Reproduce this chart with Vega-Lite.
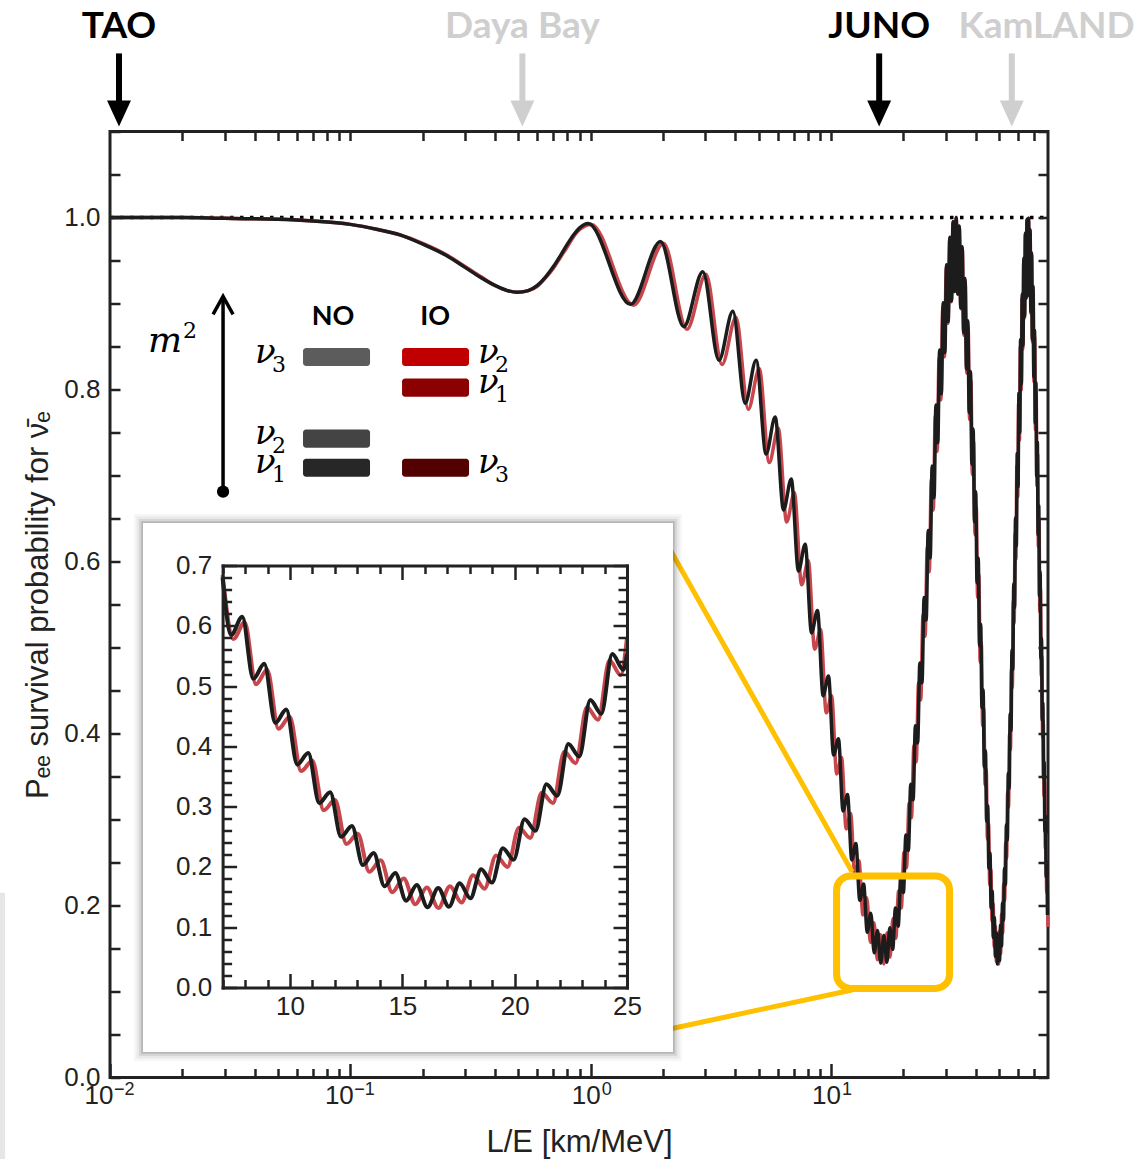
{
"$schema":"https://vega.github.io/schema/vega-lite/v6.json",
"width":938,"height":946,
"autosize":{"type":"none"},
"padding":{"left":110,"top":131.5,"right":99,"bottom":81.5},
"background":"#ffffff",
"config":{"view":{"stroke":"#222222","strokeWidth":3},"axis":{"grid":false}},
"datasets":{
"noM":[{"x":0.01,"p":1},{"x":0.02,"p":1},{"x":0.03,"p":0.999},{"x":0.05,"p":0.998},{"x":0.07,"p":0.996},{"x":0.1,"p":0.992},{"x":0.13,"p":0.986},{"x":0.16,"p":0.98},{"x":0.2,"p":0.969},{"x":0.25,"p":0.956},{"x":0.3,"p":0.942},{"x":0.35,"p":0.93},{"x":0.4,"p":0.921},{"x":0.45,"p":0.915},{"x":0.493,"p":0.913},{"x":0.55,"p":0.915},{"x":0.6,"p":0.921},{"x":0.65,"p":0.931},{"x":0.7,"p":0.943},{"x":0.75,"p":0.956},{"x":0.8,"p":0.969},{"x":0.85,"p":0.98},{"x":0.9,"p":0.988},
{"x":0.976,"p":0.993},{"x":1.465,"p":0.899},{"x":1.953,"p":0.972},{"x":2.441,"p":0.873},{"x":2.929,"p":0.937},{"x":3.418,"p":0.834},{"x":3.906,"p":0.891},{"x":4.394,"p":0.784},{"x":4.882,"p":0.834},{"x":5.37,"p":0.725},{"x":5.859,"p":0.768},{"x":6.347,"p":0.66},{"x":6.835,"p":0.696},{"x":7.323,"p":0.589},{"x":7.812,"p":0.62},{"x":8.3,"p":0.517},{"x":8.788,"p":0.543},{"x":9.276,"p":0.444},{"x":9.764,"p":0.467},{"x":10.253,"p":0.375},{"x":10.741,"p":0.394},{"x":11.229,"p":0.31},{"x":11.717,"p":0.329},{"x":12.206,"p":0.253},{"x":12.694,"p":0.272},{"x":13.182,"p":0.206},{"x":13.67,"p":0.225},{"x":14.158,"p":0.169},{"x":14.647,"p":0.191},{"x":15.135,"p":0.145},{"x":15.623,"p":0.171},{"x":16.111,"p":0.133},{"x":16.599,"p":0.165},{"x":17.088,"p":0.134},{"x":17.576,"p":0.174},{"x":18.064,"p":0.149},{"x":18.552,"p":0.197},{"x":19.041,"p":0.176},{"x":19.529,"p":0.234},{"x":20.017,"p":0.215},{"x":20.505,"p":0.282},{"x":20.993,"p":0.264},{"x":21.482,"p":0.341},{"x":21.97,"p":0.323},{"x":22.458,"p":0.409},{"x":22.946,"p":0.389},{"x":23.435,"p":0.482},{"x":23.923,"p":0.459},{"x":24.411,"p":0.558},{"x":24.899,"p":0.532},{"x":25.387,"p":0.636},{"x":25.876,"p":0.604},{"x":26.364,"p":0.711},{"x":26.852,"p":0.674},{"x":27.34,"p":0.782},{"x":27.829,"p":0.738},{"x":28.317,"p":0.846},{"x":28.805,"p":0.795},{"x":29.293,"p":0.901},{"x":29.781,"p":0.843},{"x":30.27,"p":0.945},{"x":30.758,"p":0.879},{"x":31.246,"p":0.977},{"x":31.734,"p":0.903},{"x":32.223,"p":0.995},{"x":32.711,"p":0.914},{"x":33.199,"p":1},{"x":33.687,"p":0.911},{"x":34.175,"p":0.99},{"x":34.664,"p":0.895},{"x":35.152,"p":0.966},{"x":35.64,"p":0.866},{"x":36.128,"p":0.929},{"x":36.617,"p":0.824},{"x":37.105,"p":0.88},{"x":37.593,"p":0.773},{"x":38.081,"p":0.821},{"x":38.569,"p":0.713},{"x":39.058,"p":0.754},{"x":39.546,"p":0.646},{"x":40.034,"p":0.681},{"x":40.522,"p":0.575},{"x":41.01,"p":0.604},{"x":41.499,"p":0.502},{"x":41.987,"p":0.527},{"x":42.475,"p":0.43},{"x":42.963,"p":0.451},{"x":43.452,"p":0.361},{"x":43.94,"p":0.38},{"x":44.428,"p":0.298},{"x":44.916,"p":0.316},{"x":45.404,"p":0.243},{"x":45.893,"p":0.261},{"x":46.381,"p":0.197},{"x":46.869,"p":0.217},{"x":47.357,"p":0.163},{"x":47.846,"p":0.186},{"x":48.334,"p":0.141},{"x":48.822,"p":0.168},{"x":49.31,"p":0.132},{"x":49.798,"p":0.165},{"x":50.287,"p":0.136},{"x":50.775,"p":0.177},{"x":51.263,"p":0.153},{"x":51.751,"p":0.203},{"x":52.24,"p":0.183},{"x":52.728,"p":0.243},{"x":53.216,"p":0.224},{"x":53.704,"p":0.294},{"x":54.192,"p":0.276},{"x":54.681,"p":0.354},{"x":55.169,"p":0.336},{"x":55.657,"p":0.423},{"x":56.145,"p":0.403},{"x":56.634,"p":0.497},{"x":57.122,"p":0.474},{"x":57.61,"p":0.574},{"x":58.098,"p":0.546},{"x":58.586,"p":0.651},{"x":59.075,"p":0.618},{"x":59.563,"p":0.726},{"x":60.051,"p":0.687},{"x":60.539,"p":0.796},{"x":61.028,"p":0.75},{"x":61.516,"p":0.858},{"x":62.004,"p":0.806},{"x":62.492,"p":0.911},{"x":62.98,"p":0.851},{"x":63.469,"p":0.953},{"x":63.957,"p":0.885},{"x":64.445,"p":0.982},{"x":64.933,"p":0.906},{"x":65.421,"p":0.998},{"x":65.91,"p":0.914},{"x":66.398,"p":0.999},{"x":66.886,"p":0.909},{"x":67.374,"p":0.986},{"x":67.863,"p":0.89},{"x":68.351,"p":0.959},{"x":68.839,"p":0.858},{"x":69.327,"p":0.92},{"x":69.815,"p":0.815},{"x":70.304,"p":0.869},{"x":70.792,"p":0.761},{"x":71.28,"p":0.808},{"x":71.768,"p":0.699},{"x":72.257,"p":0.739},{"x":72.745,"p":0.631},{"x":73.233,"p":0.665},{"x":73.721,"p":0.56},{"x":74.209,"p":0.588},{"x":74.698,"p":0.487},{"x":75.186,"p":0.511},{"x":75.674,"p":0.415},{"x":76.162,"p":0.436},{"x":76.651,"p":0.348},{"x":77.139,"p":0.367},{"x":77.627,"p":0.286},{"x":78.115,"p":0.304},{"x":78.603,"p":0.233},{"x":79.092,"p":0.251},{"x":79.58,"p":0.189}],
"ioM":[{"x":0.01,"p":1},{"x":0.02,"p":1},{"x":0.03,"p":0.999},{"x":0.05,"p":0.998},{"x":0.07,"p":0.996},{"x":0.1,"p":0.992},{"x":0.13,"p":0.986},{"x":0.16,"p":0.98},{"x":0.2,"p":0.97},{"x":0.25,"p":0.957},{"x":0.3,"p":0.943},{"x":0.35,"p":0.931},{"x":0.4,"p":0.921},{"x":0.45,"p":0.915},{"x":0.5,"p":0.913},{"x":0.55,"p":0.915},{"x":0.6,"p":0.92},{"x":0.65,"p":0.93},{"x":0.7,"p":0.941},{"x":0.75,"p":0.954},{"x":0.8,"p":0.966},{"x":0.85,"p":0.978},{"x":0.9,"p":0.986},
{"x":1.006,"p":0.992},{"x":1.509,"p":0.898},{"x":2.012,"p":0.97},{"x":2.515,"p":0.87},{"x":3.019,"p":0.934},{"x":3.522,"p":0.829},{"x":4.025,"p":0.884},{"x":4.528,"p":0.777},{"x":5.031,"p":0.824},{"x":5.534,"p":0.715},{"x":6.037,"p":0.755},{"x":6.54,"p":0.646},{"x":7.043,"p":0.68},{"x":7.546,"p":0.573},{"x":8.049,"p":0.601},{"x":8.553,"p":0.498},{"x":9.056,"p":0.521},{"x":9.559,"p":0.424},{"x":10.062,"p":0.444},{"x":10.565,"p":0.353},{"x":11.068,"p":0.372},{"x":11.571,"p":0.289},{"x":12.074,"p":0.307},{"x":12.577,"p":0.234},{"x":13.08,"p":0.252},{"x":13.583,"p":0.189},{"x":14.087,"p":0.209},{"x":14.59,"p":0.157},{"x":15.093,"p":0.18},{"x":15.596,"p":0.137},{"x":16.099,"p":0.166},{"x":16.602,"p":0.132},{"x":17.105,"p":0.168},{"x":17.608,"p":0.14},{"x":18.111,"p":0.185},{"x":18.614,"p":0.162},{"x":19.117,"p":0.217},{"x":19.621,"p":0.197},{"x":20.124,"p":0.262},{"x":20.627,"p":0.244},{"x":21.13,"p":0.319},{"x":21.633,"p":0.302},{"x":22.136,"p":0.386},{"x":22.639,"p":0.367},{"x":23.142,"p":0.459},{"x":23.645,"p":0.439},{"x":24.148,"p":0.538},{"x":24.651,"p":0.513},{"x":25.155,"p":0.617},{"x":25.658,"p":0.588},{"x":26.161,"p":0.696},{"x":26.664,"p":0.66},{"x":27.167,"p":0.77},{"x":27.67,"p":0.728},{"x":28.173,"p":0.837},{"x":28.676,"p":0.788},{"x":29.179,"p":0.895},{"x":29.682,"p":0.838},{"x":30.185,"p":0.942},{"x":30.688,"p":0.877},{"x":31.192,"p":0.976},{"x":31.695,"p":0.902},{"x":32.198,"p":0.995},{"x":32.701,"p":0.914},{"x":33.204,"p":1},{"x":33.707,"p":0.911},{"x":34.21,"p":0.989},{"x":34.713,"p":0.894},{"x":35.216,"p":0.964},{"x":35.719,"p":0.863},{"x":36.222,"p":0.925},{"x":36.726,"p":0.819},{"x":37.229,"p":0.873},{"x":37.732,"p":0.765},{"x":38.235,"p":0.811},{"x":38.738,"p":0.701},{"x":39.241,"p":0.74},{"x":39.744,"p":0.631},{"x":40.247,"p":0.664},{"x":40.75,"p":0.558},{"x":41.253,"p":0.585},{"x":41.756,"p":0.483},{"x":42.26,"p":0.505},{"x":42.763,"p":0.409},{"x":43.266,"p":0.429},{"x":43.769,"p":0.34},{"x":44.272,"p":0.358},{"x":44.775,"p":0.277},{"x":45.278,"p":0.295},{"x":45.781,"p":0.224},{"x":46.284,"p":0.242},{"x":46.787,"p":0.182},{"x":47.29,"p":0.202},{"x":47.794,"p":0.152},{"x":48.297,"p":0.176},{"x":48.8,"p":0.135},{"x":49.303,"p":0.165},{"x":49.806,"p":0.132},{"x":50.309,"p":0.17},{"x":50.812,"p":0.144},{"x":51.315,"p":0.19},{"x":51.818,"p":0.168},{"x":52.321,"p":0.225},{"x":52.824,"p":0.206},{"x":53.328,"p":0.273},{"x":53.831,"p":0.255},{"x":54.334,"p":0.332},{"x":54.837,"p":0.314},{"x":55.34,"p":0.4},{"x":55.843,"p":0.381},{"x":56.346,"p":0.475},{"x":56.849,"p":0.453},{"x":57.352,"p":0.554},{"x":57.855,"p":0.528},{"x":58.358,"p":0.633},{"x":58.862,"p":0.603},{"x":59.365,"p":0.711},{"x":59.868,"p":0.675},{"x":60.371,"p":0.784},{"x":60.874,"p":0.741},{"x":61.377,"p":0.85},{"x":61.88,"p":0.799},{"x":62.383,"p":0.906},{"x":62.886,"p":0.847},{"x":63.389,"p":0.95},{"x":63.892,"p":0.883},{"x":64.395,"p":0.981},{"x":64.899,"p":0.906},{"x":65.402,"p":0.997},{"x":65.905,"p":0.914},{"x":66.408,"p":0.999},{"x":66.911,"p":0.909},{"x":67.414,"p":0.985},{"x":67.917,"p":0.888},{"x":68.42,"p":0.957},{"x":68.923,"p":0.855},{"x":69.426,"p":0.915},{"x":69.929,"p":0.809},{"x":70.433,"p":0.861},{"x":70.936,"p":0.753},{"x":71.439,"p":0.797},{"x":71.942,"p":0.688},{"x":72.445,"p":0.725},{"x":72.948,"p":0.617},{"x":73.451,"p":0.648},{"x":73.954,"p":0.542},{"x":74.457,"p":0.569},{"x":74.96,"p":0.467},{"x":75.464,"p":0.49},{"x":75.967,"p":0.395},{"x":76.47,"p":0.414},{"x":76.973,"p":0.327},{"x":77.476,"p":0.344},{"x":77.979,"p":0.266},{"x":78.482,"p":0.283},{"x":78.985,"p":0.215},{"x":79.488,"p":0.233},{"x":79.991,"p":0.175}],
"noI":[{"x":7,"p":0.68},{"x":7.383,"p":0.585},{"x":7.874,"p":0.615},{"x":8.365,"p":0.512},{"x":8.855,"p":0.537},{"x":9.345,"p":0.439},{"x":9.834,"p":0.461},{"x":10.324,"p":0.37},{"x":10.812,"p":0.389},{"x":11.3,"p":0.306},{"x":11.787,"p":0.324},{"x":12.273,"p":0.25},{"x":12.758,"p":0.268},{"x":13.242,"p":0.203},{"x":13.725,"p":0.223},{"x":14.206,"p":0.168},{"x":14.687,"p":0.19},{"x":15.166,"p":0.144},{"x":15.643,"p":0.17},{"x":16.12,"p":0.133},{"x":16.597,"p":0.165},{"x":17.074,"p":0.134},{"x":17.551,"p":0.173},{"x":18.03,"p":0.148},{"x":18.509,"p":0.196},{"x":18.99,"p":0.174},{"x":19.472,"p":0.231},{"x":19.955,"p":0.212},{"x":20.439,"p":0.279},{"x":20.925,"p":0.26},{"x":21.412,"p":0.337},{"x":21.899,"p":0.318},{"x":22.387,"p":0.404},{"x":22.875,"p":0.383},{"x":23.365,"p":0.477},{"x":23.855,"p":0.454},{"x":24.345,"p":0.553},{"x":24.835,"p":0.527},{"x":25,"p":0.553}],
"ioI":[{"x":7,"p":0.684},{"x":7.483,"p":0.578},{"x":7.983,"p":0.606},{"x":8.485,"p":0.503},{"x":8.986,"p":0.527},{"x":9.487,"p":0.429},{"x":9.989,"p":0.449},{"x":10.492,"p":0.359},{"x":10.995,"p":0.376},{"x":11.499,"p":0.294},{"x":12.004,"p":0.311},{"x":12.51,"p":0.238},{"x":13.017,"p":0.255},{"x":13.526,"p":0.192},{"x":14.037,"p":0.211},{"x":14.548,"p":0.158},{"x":15.061,"p":0.181},{"x":15.575,"p":0.138},{"x":16.089,"p":0.166},{"x":16.605,"p":0.132},{"x":17.12,"p":0.168},{"x":17.634,"p":0.141},{"x":18.147,"p":0.186},{"x":18.66,"p":0.164},{"x":19.17,"p":0.219},{"x":19.681,"p":0.2},{"x":20.189,"p":0.265},{"x":20.696,"p":0.248},{"x":21.201,"p":0.323},{"x":21.706,"p":0.306},{"x":22.209,"p":0.391},{"x":22.712,"p":0.372},{"x":23.215,"p":0.465},{"x":23.716,"p":0.444},{"x":24.218,"p":0.543},{"x":24.718,"p":0.518},{"x":25,"p":0.58}],
"sites":[{"n":"TAO","x":0.0109,"lx":0.0109,"hl":"y"},{"n":"Daya Bay","x":0.52,"lx":0.52,"hl":"n"},{"n":"JUNO","x":15.87,"lx":15.87,"hl":"y"},{"n":"KamLAND","x":56.55,"lx":78.9,"hl":"n"}],
"bars":[{"k":"n3","x":0.06356,"x2":0.12078,"p":0.8482,"p2":0.8272},{"k":"n2","x":0.06356,"x2":0.12078,"p":0.7534,"p2":0.7324},{"k":"n1","x":0.06356,"x2":0.12078,"p":0.7196,"p2":0.6986},{"k":"i2","x":0.16414,"x2":0.31187,"p":0.8482,"p2":0.8272},{"k":"i1","x":0.16414,"x2":0.31187,"p":0.8127,"p2":0.7917},{"k":"i3","x":0.16414,"x2":0.31187,"p":0.7196,"p2":0.6986}],
"nu":[{"x":0.04012,"p":0.8313,"t":"ν","s":"3"},{"x":0.04012,"p":0.7365,"t":"ν","s":"2"},{"x":0.04012,"p":0.7027,"t":"ν","s":"1"},{"x":0.3399,"p":0.8313,"t":"ν","s":"2"},{"x":0.3399,"p":0.7958,"t":"ν","s":"1"},{"x":0.3399,"p":0.7027,"t":"ν","s":"3"}],
"box":[{"x":3.457,"x2":27.047,"p":0.7705,"p2":-0.107}]
},
"layer":[
{
"layer":[
{"data":{"values":[{"x":0.003485,"x2":0.00366,"p":0.2147,"p2":-0.095}]},
 "mark":{"type":"rect","color":"#e6e6e6"},
 "encoding":{
  "x":{"field":"x","type":"quantitative","scale":{"type":"log","domain":[0.01,80],"nice":false},"axis":null},
  "x2":{"field":"x2"},
  "y":{"field":"p","type":"quantitative","scale":{"domain":[0,1.1],"nice":false,"zero":false},"axis":null},
  "y2":{"field":"p2"}}},
{"data":{"values":[{"x":0.01,"x2":80,"p":1}]},
 "mark":{"type":"rule","color":"#000000","strokeWidth":3.5,"strokeDash":[3.5,6.5]},
 "encoding":{
  "x":{"field":"x","type":"quantitative","scale":{"type":"log","domain":[0.01,80],"nice":false},
   "axis":{"orient":"top","values":[0.02,0.03,0.04,0.05,0.06,0.07,0.08,0.09,0.1,0.2,0.3,0.4,0.5,0.6,0.7,0.8,0.9,1,2,3,4,5,6,7,8,9,10,20,30,40,50,60,70],"tickSize":-9,"tickWidth":2.5,"tickColor":"#222222","labels":false,"domain":false,"grid":false,"title":null,"zindex":1}},
  "x2":{"field":"x2"},
  "y":{"field":"p","type":"quantitative","scale":{"domain":[0,1.1],"nice":false,"zero":false},"axis":null}}},
{"data":{"name":"ioM"},
 "mark":{"type":"line","color":"#C8474D","strokeWidth":3.5,"interpolate":"monotone"},
 "encoding":{
  "x":{"field":"x","type":"quantitative","scale":{"type":"log","domain":[0.01,80],"nice":false},
   "axis":{"orient":"bottom","values":[0.01,0.1],"tickSize":-14,"tickWidth":2.5,"tickColor":"#222222","labelExpr":"'10'","labelAlign":"right","labelBaseline":"alphabetic","labelOffset":3,"labelFont":"Liberation Sans","labelFontSize":26,"labelColor":"#222222","labelPadding":39.5,"labelOverlap":false,"labelFlush":false,"domain":false,"grid":false,"title":"L/E [km/MeV]","titleFont":"Liberation Sans","titleFontSize":31,"titleFontWeight":"normal","titleColor":"#222222","titleY":73.5,"titleBaseline":"alphabetic","zindex":1}},
  "y":{"field":"p","type":"quantitative","scale":{"domain":[0,1.1],"nice":false,"zero":false},
   "axis":{"orient":"left","values":[0,0.05,0.1,0.15,0.2,0.25,0.3,0.35,0.4,0.45,0.5,0.55,0.6,0.65,0.7,0.75,0.8,0.85,0.9,0.95,1,1.05,1.1],"tickSize":-10,"tickWidth":2.5,"tickColor":"#222222","labelExpr":"abs(datum.value*5 - round(datum.value*5)) < 0.001 ? format(datum.value, '.1f') : ''","labelFont":"Liberation Sans","labelFontSize":26,"labelColor":"#222222","labelPadding":20,"labelOverlap":false,"labelFlush":false,"domain":false,"grid":false,"title":"Pₑₑ survival probability for ν̄ₑ","titleFont":"Liberation Sans","titleFontSize":31,"titleFontWeight":"normal","titleColor":"#222222","titleX":-63,"titleBaseline":"alphabetic","zindex":1}}}},
{"data":{"name":"noM"},
 "mark":{"type":"line","color":"#1c1c1c","strokeWidth":3.5,"interpolate":"monotone"},
 "encoding":{
  "x":{"field":"x","type":"quantitative","scale":{"type":"log","domain":[0.01,80],"nice":false},
   "axis":{"orient":"bottom","values":[0.02,0.03,0.04,0.05,0.06,0.07,0.08,0.09,0.2,0.3,0.4,0.5,0.6,0.7,0.8,0.9,2,3,4,5,6,7,8,9,20,30,40,50,60,70],"tickSize":-9,"tickWidth":2.5,"tickColor":"#222222","labels":false,"domain":false,"grid":false,"title":null,"zindex":1}},
  "y":{"field":"p","type":"quantitative","scale":{"domain":[0,1.1],"nice":false,"zero":false},
   "axis":{"orient":"right","values":[0,0.05,0.1,0.15,0.2,0.25,0.3,0.35,0.4,0.45,0.5,0.55,0.6,0.65,0.7,0.75,0.8,0.85,0.9,0.95,1,1.05,1.1],"tickSize":-10,"tickWidth":2.5,"tickColor":"#222222","labels":false,"domain":false,"grid":false,"title":null,"zindex":1}}}},
{"data":{"values":[{"x":0.01,"t":"−2"},{"x":0.1,"t":"−1"}]},
 "mark":{"type":"text","font":"Liberation Sans","fontSize":18,"align":"left","baseline":"alphabetic","dx":4,"color":"#222222"},
 "encoding":{
  "x":{"field":"x","type":"quantitative","scale":{"type":"log","domain":[0.01,80],"nice":false},"axis":null},
  "y":{"datum":-0.02036,"type":"quantitative","scale":{"domain":[0,1.1],"nice":false,"zero":false},"axis":null},
  "text":{"field":"t"}}},
{"data":{"values":[{"x":1,"t":"0"},{"x":10,"t":"1"}]},
 "mark":{"type":"text","font":"Liberation Sans","fontSize":18,"align":"left","baseline":"alphabetic","dx":11,"color":"#222222"},
 "encoding":{
  "x":{"field":"x","type":"quantitative","scale":{"type":"log","domain":[0.01,80],"nice":false},
   "axis":{"orient":"bottom","values":[1,10],"tickSize":-14,"tickWidth":2.5,"tickColor":"#222222","labelExpr":"'10'","labelAlign":"right","labelBaseline":"alphabetic","labelOffset":9.5,"labelFont":"Liberation Sans","labelFontSize":26,"labelColor":"#222222","labelPadding":39.5,"labelOverlap":false,"labelFlush":false,"domain":false,"grid":false,"title":null,"zindex":1}},
  "y":{"datum":-0.02036,"type":"quantitative","scale":{"domain":[0,1.1],"nice":false,"zero":false},"axis":null},
  "text":{"field":"t"}}},
{"data":{"values":[{"g":"a","x":2.04,"p":0.6242},{"g":"a","x":12.24,"p":0.2391},{"g":"b","x":2.04,"p":0.0553},{"g":"b","x":12.24,"p":0.1018}]},
 "mark":{"type":"line","color":"#FFC000","strokeWidth":5},
 "encoding":{
  "x":{"field":"x","type":"quantitative","scale":{"type":"log","domain":[0.01,80],"nice":false},"axis":null},
  "y":{"field":"p","type":"quantitative","scale":{"domain":[0,1.1],"nice":false,"zero":false},"axis":null},
  "detail":{"field":"g"}}},
{"data":{"values":[{"x":10.551,"x2":31.158,"p":0.2344,"p2":0.1036}]},
 "mark":{"type":"rect","filled":false,"color":"#FFC000","strokeWidth":7,"cornerRadius":14},
 "encoding":{
  "x":{"field":"x","type":"quantitative","scale":{"type":"log","domain":[0.01,80],"nice":false},"axis":null},
  "x2":{"field":"x2"},
  "y":{"field":"p","type":"quantitative","scale":{"domain":[0,1.1],"nice":false,"zero":false},"axis":null},
  "y2":{"field":"p2"}}},
{"data":{"name":"sites"},
 "mark":{"type":"rule","strokeWidth":6},
 "encoding":{
  "x":{"field":"x","type":"quantitative","scale":{"type":"log","domain":[0.01,80],"nice":false},"axis":null},
  "y":{"datum":1.1908,"type":"quantitative","scale":{"domain":[0,1.1],"nice":false,"zero":false},"axis":null},
  "y2":{"datum":1.1338},
  "color":{"field":"hl","type":"nominal","scale":{"domain":["y","n"],"range":["#000000","#cfcfcf"]},"legend":null}}},
{"data":{"name":"sites"},
 "mark":{"type":"point","shape":"M-0.92,-1L0.92,-1L0,1Z","size":676,"filled":true,"opacity":1},
 "encoding":{
  "x":{"field":"x","type":"quantitative","scale":{"type":"log","domain":[0.01,80],"nice":false},"axis":null},
  "y":{"datum":1.121,"type":"quantitative","scale":{"domain":[0,1.1],"nice":false,"zero":false},"axis":null},
  "color":{"field":"hl","type":"nominal","scale":{"domain":["y","n"],"range":["#000000","#cfcfcf"]},"legend":null}}},
{"data":{"name":"sites"},
 "mark":{"type":"text","font":"Lato","fontWeight":"bold","fontSize":37,"align":"center","baseline":"alphabetic"},
 "encoding":{
  "x":{"field":"lx","type":"quantitative","scale":{"type":"log","domain":[0.01,80],"nice":false},"axis":null},
  "y":{"datum":1.2083,"type":"quantitative","scale":{"domain":[0,1.1],"nice":false,"zero":false},"axis":null},
  "text":{"field":"n"},
  "color":{"field":"hl","type":"nominal","scale":{"domain":["y","n"],"range":["#000000","#cfcfcf"]},"legend":null}}},
{"data":{"name":"bars"},
 "mark":{"type":"rect","cornerRadius":3},
 "encoding":{
  "x":{"field":"x","type":"quantitative","scale":{"type":"log","domain":[0.01,80],"nice":false},"axis":null},
  "x2":{"field":"x2"},
  "y":{"field":"p","type":"quantitative","scale":{"domain":[0,1.1],"nice":false,"zero":false},"axis":null},
  "y2":{"field":"p2"},
  "fill":{"field":"k","type":"nominal","scale":{"domain":["n3","n2","n1","i2","i1","i3"],"range":["#5c5c5c","#444444","#272727","#c00000","#8b0000","#520000"]},"legend":null}}},
{"data":{"values":[{"x":0.02954}]},
 "mark":{"type":"rule","color":"#000000","strokeWidth":3.5},
 "encoding":{
  "x":{"field":"x","type":"quantitative","scale":{"type":"log","domain":[0.01,80],"nice":false},"axis":null},
  "y":{"datum":0.6812,"type":"quantitative","scale":{"domain":[0,1.1],"nice":false,"zero":false},"axis":null},
  "y2":{"datum":0.905}}},
{"data":{"values":[{"x":0.02954}]},
 "mark":{"type":"point","shape":"M-1,1.8L0,0L1,1.8","size":400,"filled":false,"color":"#000000","strokeWidth":3.5,"opacity":1},
 "encoding":{
  "x":{"field":"x","type":"quantitative","scale":{"type":"log","domain":[0.01,80],"nice":false},"axis":null},
  "y":{"datum":0.9084,"type":"quantitative","scale":{"domain":[0,1.1],"nice":false,"zero":false},"axis":null}}},
{"data":{"values":[{"x":0.02954}]},
 "mark":{"type":"point","shape":"circle","size":150,"filled":true,"color":"#000000","opacity":1},
 "encoding":{
  "x":{"field":"x","type":"quantitative","scale":{"type":"log","domain":[0.01,80],"nice":false},"axis":null},
  "y":{"datum":0.6812,"type":"quantitative","scale":{"domain":[0,1.1],"nice":false,"zero":false},"axis":null}}},
{"data":{"values":[{"x":0.01439,"t":"m","s":"2"}]},
 "mark":{"type":"text","font":"DejaVu Serif","fontStyle":"italic","fontSize":36,"align":"left","baseline":"alphabetic","color":"#000000"},
 "encoding":{
  "x":{"field":"x","type":"quantitative","scale":{"type":"log","domain":[0.01,80],"nice":false},"axis":null},
  "y":{"datum":0.8441,"type":"quantitative","scale":{"domain":[0,1.1],"nice":false,"zero":false},"axis":null},
  "text":{"field":"t"}}},
{"data":{"values":[{"x":0.01439,"t":"m","s":"2"}]},
 "mark":{"type":"text","font":"DejaVu Serif","fontSize":22,"align":"left","baseline":"alphabetic","dx":35,"dy":-14,"color":"#000000"},
 "encoding":{
  "x":{"field":"x","type":"quantitative","scale":{"type":"log","domain":[0.01,80],"nice":false},"axis":null},
  "y":{"datum":0.8441,"type":"quantitative","scale":{"domain":[0,1.1],"nice":false,"zero":false},"axis":null},
  "text":{"field":"s"}}},
{"data":{"values":[{"x":0.0847,"t":"NO"},{"x":0.2252,"t":"IO"}]},
 "mark":{"type":"text","font":"Lato","fontWeight":"bold","fontSize":27,"align":"center","baseline":"alphabetic","color":"#000000"},
 "encoding":{
  "x":{"field":"x","type":"quantitative","scale":{"type":"log","domain":[0.01,80],"nice":false},"axis":null},
  "y":{"datum":0.8755,"type":"quantitative","scale":{"domain":[0,1.1],"nice":false,"zero":false},"axis":null},
  "text":{"field":"t"}}},
{"data":{"name":"nu"},
 "mark":{"type":"text","font":"DejaVu Serif","fontStyle":"italic","fontSize":34,"align":"left","baseline":"alphabetic","color":"#000000"},
 "encoding":{
  "x":{"field":"x","type":"quantitative","scale":{"type":"log","domain":[0.01,80],"nice":false},"axis":null},
  "y":{"field":"p","type":"quantitative","scale":{"domain":[0,1.1],"nice":false,"zero":false},"axis":null},
  "text":{"field":"t"}}},
{"data":{"name":"nu"},
 "mark":{"type":"text","font":"DejaVu Serif","fontSize":22,"align":"left","baseline":"alphabetic","dx":17,"dy":9,"color":"#000000"},
 "encoding":{
  "x":{"field":"x","type":"quantitative","scale":{"type":"log","domain":[0.01,80],"nice":false},"axis":null},
  "y":{"field":"p","type":"quantitative","scale":{"domain":[0,1.1],"nice":false,"zero":false},"axis":null},
  "text":{"field":"s"}}}
],
"resolve":{"axis":{"x":"independent","y":"independent"}}
},
{
"layer":[
{"data":{"name":"box"},
 "mark":{"type":"rect","filled":false,"color":"#000000","strokeWidth":18,"strokeOpacity":0.035},
 "encoding":{
  "x":{"field":"x","type":"quantitative","scale":{"domain":[7,25],"range":[112.6,517],"nice":false,"zero":false},"axis":null},
  "x2":{"field":"x2"},
  "y":{"field":"p","type":"quantitative","scale":{"domain":[0,0.7],"range":[856,434],"nice":false,"zero":false},"axis":null},
  "y2":{"field":"p2"}}},
{"data":{"name":"box"},
 "mark":{"type":"rect","filled":false,"color":"#000000","strokeWidth":13,"strokeOpacity":0.05},
 "encoding":{
  "x":{"field":"x","type":"quantitative","scale":{"domain":[7,25],"range":[112.6,517],"nice":false,"zero":false},
   "axis":{"orient":"bottom","offset":-90,"values":[10,15,20,25],"tickSize":-14,"tickWidth":2.5,"tickColor":"#222222","labelFont":"Liberation Sans","labelFontSize":26,"labelColor":"#222222","labelPadding":20,"labelOverlap":false,"labelFlush":false,"format":"d","domain":true,"domainColor":"#222222","domainWidth":3,"domainCap":"square","grid":false,"title":null,"zindex":1}},
  "x2":{"field":"x2"},
  "y":{"field":"p","type":"quantitative","scale":{"domain":[0,0.7],"range":[856,434],"nice":false,"zero":false},
   "axis":{"orient":"left","offset":-112.6,"values":[0,0.1,0.2,0.3,0.4,0.5,0.6,0.7],"tickSize":-14,"tickWidth":2.5,"tickColor":"#222222","labelFont":"Liberation Sans","labelFontSize":26,"labelColor":"#222222","labelPadding":25,"labelOverlap":false,"labelFlush":false,"format":".1f","domain":true,"domainColor":"#222222","domainWidth":3,"domainCap":"square","grid":false,"title":null,"zindex":1}},
  "y2":{"field":"p2"}}},
{"data":{"name":"box"},
 "mark":{"type":"rect","filled":false,"color":"#000000","strokeWidth":8,"strokeOpacity":0.08},
 "encoding":{
  "x":{"field":"x","type":"quantitative","scale":{"domain":[7,25],"range":[112.6,517],"nice":false,"zero":false},
   "axis":{"orient":"bottom","offset":-90,"values":[7,8,9,11,12,13,14,16,17,18,19,21,22,23,24],"tickSize":-8,"tickWidth":2.5,"tickColor":"#222222","labels":false,"domain":false,"grid":false,"title":null,"zindex":1}},
  "x2":{"field":"x2"},
  "y":{"field":"p","type":"quantitative","scale":{"domain":[0,0.7],"range":[856,434],"nice":false,"zero":false},
   "axis":{"orient":"left","offset":-112.6,"values":[0.02,0.04,0.06,0.08,0.12,0.14,0.16,0.18,0.22,0.24,0.26,0.28,0.32,0.34,0.36,0.38,0.42,0.44,0.46,0.48,0.52,0.54,0.56,0.58,0.62,0.64,0.66,0.68],"tickSize":-9,"tickWidth":2.5,"tickColor":"#222222","labels":false,"domain":false,"grid":false,"title":null,"zindex":1}},
  "y2":{"field":"p2"}}},
{"data":{"name":"box"},
 "mark":{"type":"rect","filled":false,"color":"#000000","strokeWidth":3.5,"strokeOpacity":0.15},
 "encoding":{
  "x":{"field":"x","type":"quantitative","scale":{"domain":[7,25],"range":[112.6,517],"nice":false,"zero":false},
   "axis":{"orient":"top","offset":-434,"values":[10,15,20,25],"tickSize":-14,"tickWidth":2.5,"tickColor":"#222222","labels":false,"domain":true,"domainColor":"#222222","domainWidth":3,"domainCap":"square","grid":false,"title":null,"zindex":1}},
  "x2":{"field":"x2"},
  "y":{"field":"p","type":"quantitative","scale":{"domain":[0,0.7],"range":[856,434],"nice":false,"zero":false},
   "axis":{"orient":"right","offset":-421,"values":[0,0.1,0.2,0.3,0.4,0.5,0.6,0.7],"tickSize":-14,"tickWidth":2.5,"tickColor":"#222222","labels":false,"domain":true,"domainColor":"#222222","domainWidth":3,"domainCap":"square","grid":false,"title":null,"zindex":1}},
  "y2":{"field":"p2"}}},
{"data":{"name":"box"},
 "mark":{"type":"rect","color":"#ffffff"},
 "encoding":{
  "x":{"field":"x","type":"quantitative","scale":{"domain":[7,25],"range":[112.6,517],"nice":false,"zero":false},
   "axis":{"orient":"top","offset":-434,"values":[7,8,9,11,12,13,14,16,17,18,19,21,22,23,24],"tickSize":-8,"tickWidth":2.5,"tickColor":"#222222","labels":false,"domain":false,"grid":false,"title":null,"zindex":1}},
  "x2":{"field":"x2"},
  "y":{"field":"p","type":"quantitative","scale":{"domain":[0,0.7],"range":[856,434],"nice":false,"zero":false},
   "axis":{"orient":"right","offset":-421,"values":[0.02,0.04,0.06,0.08,0.12,0.14,0.16,0.18,0.22,0.24,0.26,0.28,0.32,0.34,0.36,0.38,0.42,0.44,0.46,0.48,0.52,0.54,0.56,0.58,0.62,0.64,0.66,0.68],"tickSize":-9,"tickWidth":2.5,"tickColor":"#222222","labels":false,"domain":false,"grid":false,"title":null,"zindex":1}},
  "y2":{"field":"p2"}}},
{"data":{"name":"ioI"},
 "mark":{"type":"line","color":"#C8474D","strokeWidth":4,"interpolate":"monotone"},
 "encoding":{
  "x":{"field":"x","type":"quantitative","scale":{"domain":[7,25],"range":[112.6,517],"nice":false,"zero":false},"axis":null},
  "y":{"field":"p","type":"quantitative","scale":{"domain":[0,0.7],"range":[856,434],"nice":false,"zero":false},"axis":null}}},
{"data":{"name":"noI"},
 "mark":{"type":"line","color":"#1c1c1c","strokeWidth":4,"interpolate":"monotone"},
 "encoding":{
  "x":{"field":"x","type":"quantitative","scale":{"domain":[7,25],"range":[112.6,517],"nice":false,"zero":false},"axis":null},
  "y":{"field":"p","type":"quantitative","scale":{"domain":[0,0.7],"range":[856,434],"nice":false,"zero":false},"axis":null}}}
],
"resolve":{"axis":{"x":"independent","y":"independent"}}
}
],
"resolve":{"scale":{"x":"independent","y":"independent"}}
}
